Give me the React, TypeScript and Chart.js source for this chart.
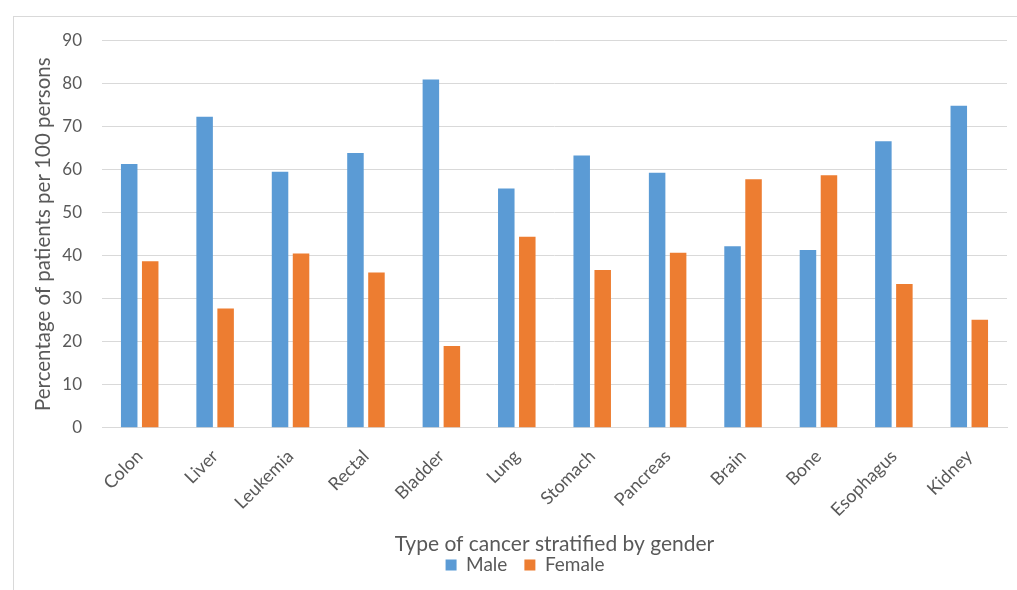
import { useEffect, useRef } from 'react';
import { Chart, registerables } from 'chart.js';

Chart.register(...registerables);

// Cancer types along the x axis
const cancerTypes = [
  'Colon', 'Liver', 'Leukemia', 'Rectal', 'Bladder', 'Lung',
  'Stomach', 'Pancreas', 'Brain', 'Bone', 'Esophagus', 'Kidney',
];

// Percentage of patients per 100 persons, by gender
const maleValues = [61.3, 72.3, 59.5, 63.9, 81.0, 55.6, 63.3, 59.3, 42.2, 41.3, 66.6, 74.9];
const femaleValues = [38.7, 27.7, 40.5, 36.1, 19.0, 44.4, 36.7, 40.7, 57.8, 58.7, 33.4, 25.1];

// Value axis range
const yMin = 0;
const yMax = 90;
const yStep = 10;

const TEXT = '#595959';
const GRID = '#d9d9d9';
const FONT = 'Lato, "Open Sans", sans-serif';

export default function App() {
  const canvasRef = useRef<HTMLCanvasElement>(null);

  useEffect(() => {
    const canvas = canvasRef.current;
    if (!canvas) return;
    const chart = new Chart(canvas, {
      type: 'bar',
      data: {
        labels: cancerTypes,
        datasets: [
          { label: 'Male', data: maleValues, backgroundColor: '#5B9BD5' },
          { label: 'Female', data: femaleValues, backgroundColor: '#ED7D31' },
        ],
      },
      options: {
        responsive: false,
        animation: false,
        datasets: { bar: { categoryPercentage: 0.557, barPercentage: 0.786 } },
        layout: { padding: { left: 43, right: 10, top: 40.7, bottom: 5.5 } },
        plugins: {
          tooltip: { enabled: false },
          legend: {
            position: 'bottom',
            labels: {
              boxWidth: 11,
              boxHeight: 11,
              padding: 17,
              color: TEXT,
              font: { family: FONT, size: 19 },
            },
          },
        },
        scales: {
          x: {
            grid: { display: false },
            border: { display: true, color: GRID, width: 1 },
            ticks: {
              color: TEXT,
              font: { family: FONT, size: 18 },
              minRotation: 45,
              maxRotation: 45,
              padding: 10,
            },
            title: {
              display: true,
              text: 'Type of cancer stratified by gender',
              color: TEXT,
              font: { family: FONT, size: 21 },
              padding: { top: 0, bottom: -18.1 },
            },
            afterFit: (scale: any) => {
              scale.height = 110.8;
            },
          },
          y: {
            min: yMin,
            max: yMax,
            ticks: {
              stepSize: yStep,
              color: TEXT,
              font: { family: FONT, size: 17 },
              padding: 20,
            },
            grid: { color: GRID, lineWidth: 1, drawTicks: false },
            border: { display: false },
            title: {
              display: true,
              text: 'Percentage of patients per 100 persons',
              color: TEXT,
              font: { family: FONT, size: 20.5 },
              padding: { top: -11.8, bottom: 0 },
            },
            afterFit: (scale: any) => {
              scale.width = 59;
            },
          },
        },
      },
    });
    return () => chart.destroy();
  }, []);

  return (
    <div style={{ position: 'fixed', left: 0, top: 0, width: 1017, height: 590, background: '#fff' }}>
      <div
        style={{
          position: 'absolute',
          left: 13,
          top: 16,
          right: 0,
          bottom: 0,
          borderLeft: `1px solid ${GRID}`,
          borderTop: `1px solid ${GRID}`,
        }}
      />
      <canvas ref={canvasRef} width={1017} height={590} style={{ position: 'absolute', left: 0, top: 0 }} />
    </div>
  );
}
